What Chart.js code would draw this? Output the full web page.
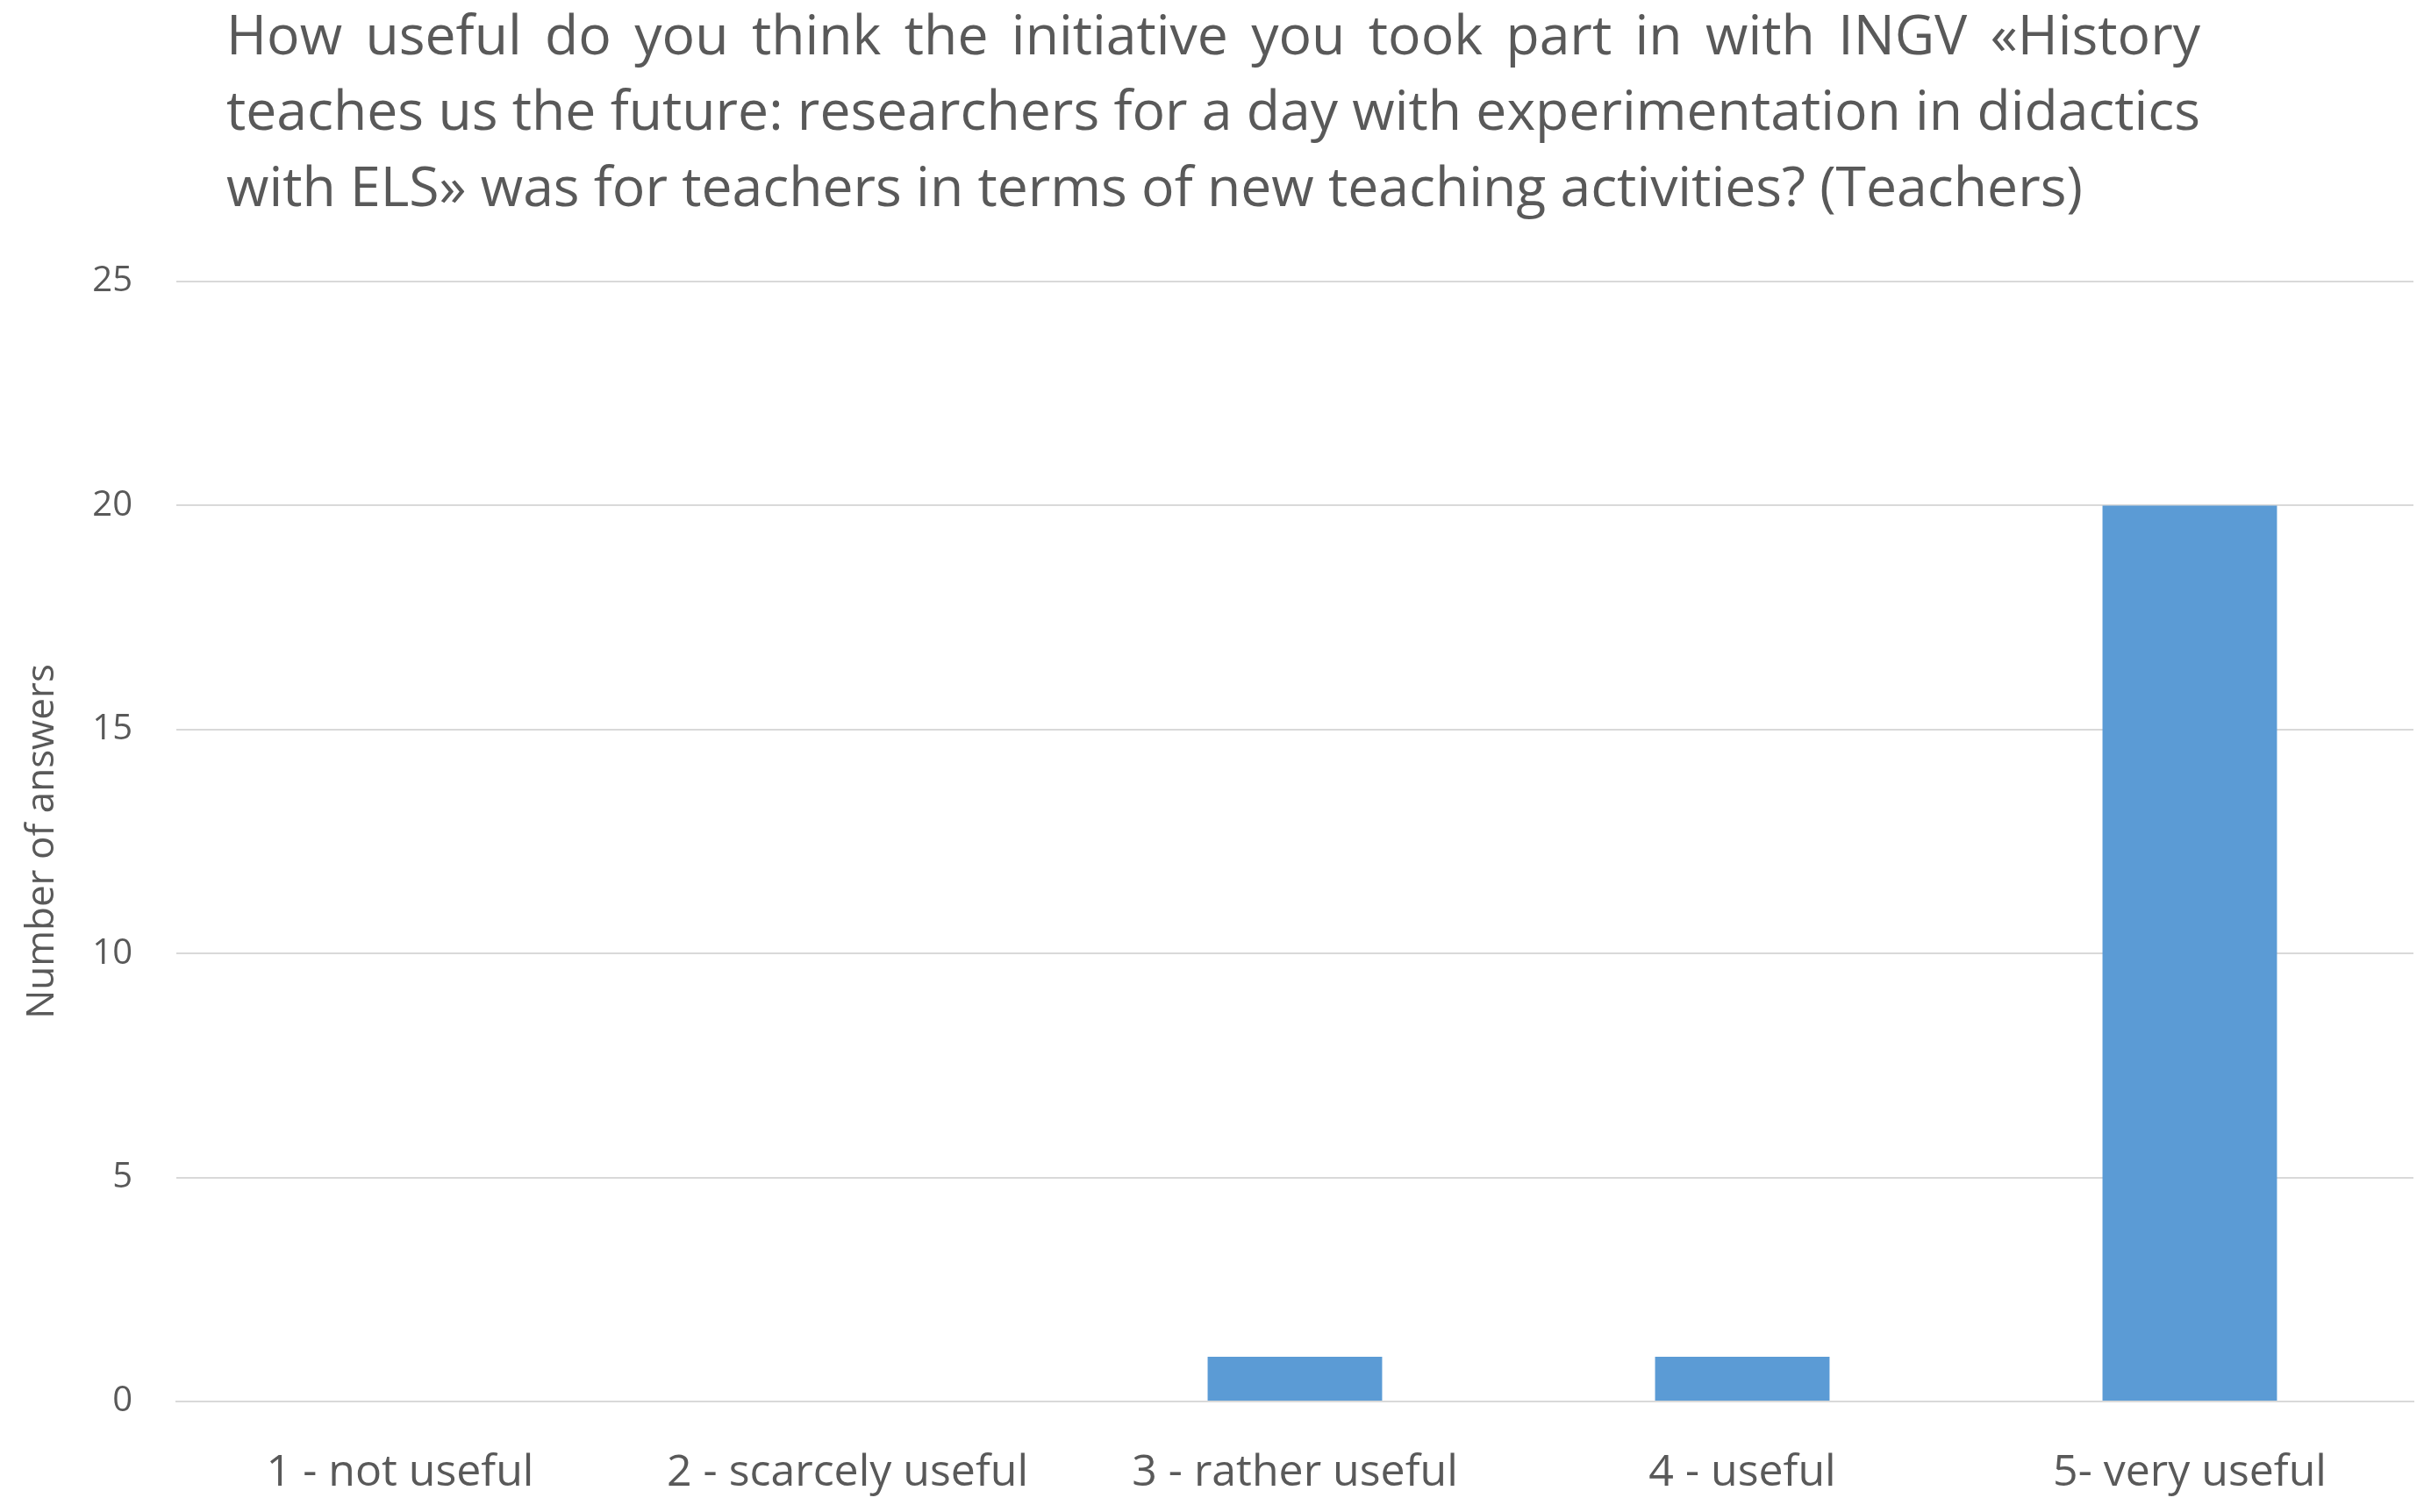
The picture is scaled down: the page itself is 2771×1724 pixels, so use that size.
<!DOCTYPE html>
<html><head><meta charset="utf-8">
<script src="https://cdn.jsdelivr.net/npm/chart.js@4"></script>
<style>html,body{margin:0;padding:0;background:#fff}#wrap{width:2771px;height:1724px}</style>
</head><body><div id="wrap"><canvas id="c"></canvas></div>
<script>
const categories = ["1 - not useful", "2 - scarcely useful", "3 - rather useful", "4 - useful", "5- very useful"];
const answers = [0, 0, 1, 1, 20];
const titleLines = [
  "How useful do you think the initiative you took part in with INGV «History",
  "teaches us the future: researchers for a day with experimentation in didactics",
  "with ELS» was for teachers in terms of new teaching activities? (Teachers)"
];
const yAxisTitle = "Number of answers";
const FONT = "'Open Sans', sans-serif";
const txt = "#595959";

const titlePlugin = {
  id: 'ttl',
  afterDraw(chart) {
    const ctx = chart.ctx;
    ctx.save();
    ctx.fillStyle = txt;
    ctx.textBaseline = 'middle';
    ctx.textAlign = 'left';
    let size = 60;
    ctx.font = size + "px " + FONT;
    const w = Math.max(...titleLines.map(l => ctx.measureText(l).width));
    size = size * 2250 / w;
    ctx.font = size + "px " + FONT;
    const ys = [44, 130, 217];
    titleLines.forEach((l, i) => {
      if (i < 2) {
        const words = l.split(' ');
        const tw = words.reduce((a, s) => a + ctx.measureText(s).width, 0);
        const gap = (2250 - tw) / (words.length - 1);
        let x = 258;
        words.forEach(wd => { ctx.fillText(wd, x, ys[i]); x += ctx.measureText(wd).width + gap; });
      } else ctx.fillText(l, 258, ys[i]);
    });
    ctx.restore();
  }
};

new Chart(document.getElementById('c'), {
  type: 'bar',
  data: { labels: categories, datasets: [{ data: answers, backgroundColor: '#5B9BD5', categoryPercentage: 1, barPercentage: 0.39 }] },
  options: {
    responsive: true, maintainAspectRatio: false, animation: false,
    devicePixelRatio: 1,
    layout: { padding: { top: 321, right: 20, left: 0, bottom: 0 } },
    plugins: { legend: { display: false }, tooltip: { enabled: false } },
    scales: {
      x: {
        grid: { display: false, drawTicks: false },
        border: { color: '#d9d9d9', width: 2 },
        ticks: { color: txt, font: { family: FONT, size: 50 }, padding: 52, maxRotation: 0, autoSkip: false },
        afterFit(s) { s.height = 126; }
      },
      y: {
        min: 0, max: 25,
        ticks: { stepSize: 5, color: txt, font: { family: FONT, size: 40 }, padding: 50 },
        grid: { color: '#d9d9d9', lineWidth: 2, drawTicks: false },
        border: { display: false },
        title: { display: true, text: yAxisTitle, color: txt, font: { family: FONT, size: 44 }, padding: { top: 22, bottom: 0 } },
        afterFit(s) { s.width = 201; }
      }
    }
  },
  plugins: [titlePlugin]
});
</script></body></html>
